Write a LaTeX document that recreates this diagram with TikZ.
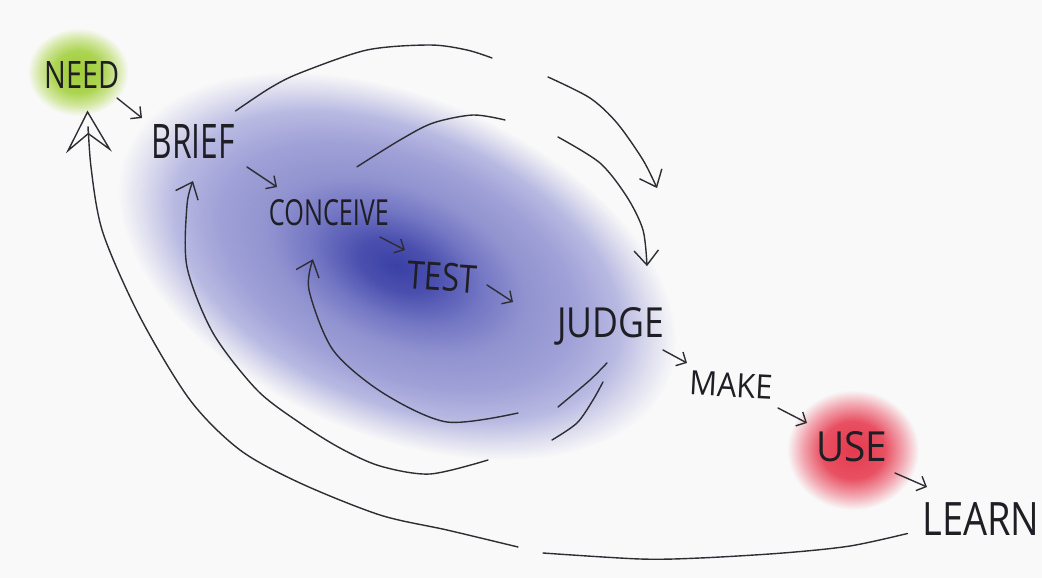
\documentclass[tikz,border=0pt]{standalone}
\usepackage{fontspec}
\setmainfont{Open Sans}
\usetikzlibrary{arrows.meta,calc}
\definecolor{bg}{RGB}{249,249,249}
\definecolor{ink}{RGB}{30,30,36}
\definecolor{pencol}{RGB}{45,45,52}
\definecolor{b0}{RGB}{58,64,165}
\definecolor{b1}{RGB}{75,80,175}
\definecolor{b2}{RGB}{115,118,195}
\definecolor{b3}{RGB}{145,147,208}
\definecolor{b4}{RGB}{160,161,215}
\definecolor{b5}{RGB}{185,186,226}
\definecolor{b6}{RGB}{222,222,239}
\definecolor{g0}{RGB}{160,204,56}
\definecolor{g1}{RGB}{172,212,82}
\definecolor{g2}{RGB}{210,231,160}
\definecolor{r0}{RGB}{228,58,78}
\definecolor{r1}{RGB}{232,80,98}
\definecolor{r2}{RGB}{242,165,175}
\pgfdeclareradialshading{blueblob}{\pgfpoint{0bp}{0bp}}{color(0bp)=(b0); color(3.5bp)=(b1); color(7.5bp)=(b2); color(11.5bp)=(b3); color(16bp)=(b4); color(20bp)=(b5); color(22.8bp)=(b6); color(25bp)=(bg); color(50bp)=(bg)}
\pgfdeclareradialshading{greenblob}{\pgfpoint{0bp}{0bp}}{color(0bp)=(g0); color(12bp)=(g1); color(19bp)=(g2); color(25bp)=(bg); color(50bp)=(bg)}
\pgfdeclareradialshading{redblob}{\pgfpoint{0bp}{0bp}}{color(0bp)=(r0); color(12bp)=(r1); color(19bp)=(r2); color(25bp)=(bg); color(50bp)=(bg)}
\newcommand{\wordbox}[3]{\resizebox{#1pt}{#2pt}{#3}}
\begin{document}
\begin{tikzpicture}[x=1pt,y=-1pt,
  word/.style={inner sep=0pt, outer sep=0pt, text=ink},
  pen/.style={draw=pencol, line width=1.4pt, line cap=round, line join=round},
  smallarr/.style={pen, -{Straight Barb[angle=90:11pt]}},
  bigvee/.style={pen, -{Straight Barb[angle=80:19pt]}},
  bighead/.style={pen, -{Stealth[open, length=42pt, width=46pt, inset=18pt]}}]
\fill[bg] (0,0) rectangle (1042,578);
\useasboundingbox (0,0) rectangle (1042,578);
% colour blobs
\begin{scope}[transform canvas={shift={(397,266)}, rotate=-23, xscale=2.95, yscale=1.7}]
  \shade[shading=blueblob] (0,0) circle (100);
\end{scope}
\begin{scope}[transform canvas={shift={(78,72)}, xscale=1.15}]
  \shade[shading=greenblob] (0,0) circle (44);
\end{scope}
\begin{scope}[transform canvas={shift={(853,450)}, xscale=1.1}]
  \shade[shading=redblob] (0,0) circle (60);
\end{scope}
% words
\node[word] (need) at (82.5,75) {\wordbox{75}{27}{NEED}};
\node[word] (brief) at (193,141) {\wordbox{83}{34}{BRIEF}};
\node[word] (conceive) at (329,213) {\wordbox{120}{26}{CONCEIVE}};
\node[word, rotate=-4] (test) at (442,277) {\wordbox{70}{28}{TEST}};
\node[word] (judge) at (611,326) {\wordbox{107}{30}{JUDGE}};
\node[word, rotate=-3] (make) at (731,385) {\wordbox{83}{24}{MAKE}};
\node[word] (use) at (852,447) {\wordbox{71}{30}{USE}};
\node[word] (learn) at (981,519) {\wordbox{117}{33}{LEARN}};
% small arrows between steps
\draw[smallarr] ($(need)+(34.5,23)$) -- ($(brief)+(-51,-23)$);
\draw[smallarr] ($(brief)+(54,26)$) -- ($(conceive)+(-52,-26)$);
\draw[smallarr] ($(conceive)+(51,24)$) -- ($(test)+(-37,-27)$);
\draw[smallarr] ($(test)+(45,8)$) -- ($(judge)+(-98,-24)$);
\draw[smallarr] ($(judge)+(52,24)$) -- ($(make)+(-44,-22)$);
\draw[smallarr] ($(make)+(47,23)$) -- ($(use)+(-45,-24)$);
\draw[smallarr] ($(use)+(43,26)$) -- ($(learn)+(-54,-32)$);
% gap coordinates of the broken loops
\coordinate (t1a) at (492,58);
\coordinate (t1b) at (548,77);
\coordinate (t2a) at (505,120);
\coordinate (t2b) at (558,137);
\coordinate (b1a) at (558,407);
\coordinate (b1b) at (518,413);
\coordinate (b2a) at (552,440);
\coordinate (b2b) at (488,460);
\coordinate (o1a) at (543,553);
\coordinate (o1b) at (518,547);
% top loops: brief -> judge, conceive -> judge
\draw[pen] plot[smooth] coordinates {($(brief.north east)+(1,-13)$) (270,88) (300,73) (367,50) (430,45) (467,50) (t1a)};
\draw[bigvee] plot[smooth] coordinates {(t1b) (590,98) (617,123) (643,160) ($(judge.north)+(46,-119)$)};
\draw[pen] plot[smooth] coordinates {($(conceive.north)+(28,-33)$) (400,140) (433,123) (473,115) (t2a)};
\draw[bigvee] plot[smooth] coordinates {(t2b) (600,163) (627,197) (643,230) ($(judge.north)+(36,-41)$)};
% bottom loops: judge -> conceive, judge -> brief
\draw[pen] plot[smooth] coordinates {($(judge.south)+(-4,18)$) (590,380) (b1a)};
\draw[bigvee] plot[smooth] coordinates {(b1b) (447,422) (383,393) (333,350) (309,290) ($(conceive.south)+(-16,33)$)};
\draw[pen] plot[smooth] coordinates {($(judge.south)+(-8,37)$) (593,400) (577,423) (b2a)};
\draw[bigvee] plot[smooth] coordinates {(b2b) (430,474) (380,466) (340,448) (300,423) (257,390) (213,333) (187,267) (187,205) ($(brief.south)+(0,23)$)};
% outer loop: learn -> need
\draw[pen] plot[smooth] coordinates {($(learn.south west)+(-15,-2)$) (850,546) (783,553) (700,558) (640,559) (o1a)};
\draw[bighead] plot[smooth] coordinates {(o1b) (447,530) (380,515) (300,483) (240,450) (190,400) (140,317) (103,233) (91,167) ($(need.south)+(5,22)$)};
\end{tikzpicture}
\end{document}
